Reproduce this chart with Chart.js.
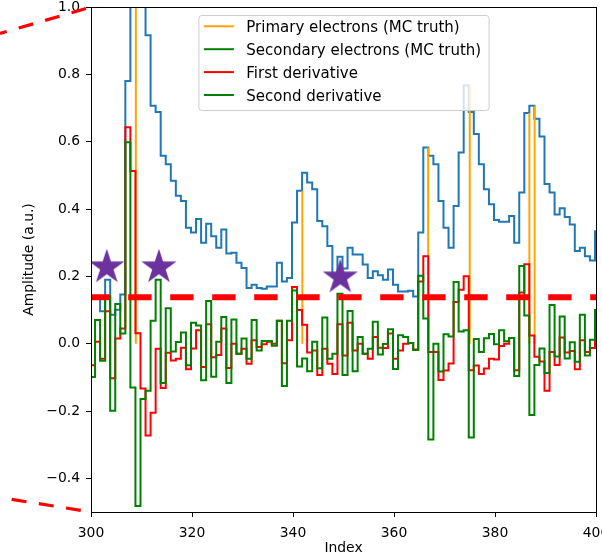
<!DOCTYPE html>
<html lang="en">
<head>
<meta charset="UTF-8">
<title>Pulse derivatives</title>
<script src="https://cdn.jsdelivr.net/npm/chart.js@4.4.1/dist/chart.umd.min.js"></script>
<style>
  html, body { margin: 0; padding: 0; background: #fff; }
  canvas { display: block; }
</style>
</head>
<body>
<canvas id="pulseChart" width="602" height="559"></canvas>
<script>
// first sample of the window; every array below holds one value per sample
const firstIndex = 300;

const waveform = [
  0.135, 0.141, 0.096, 0.190, 0.086, 0.101, 0.146, 0.780, 1.293, 1.324,
  1.191, 0.916, 0.707, 0.688, 0.558, 0.533, 0.484, 0.439, 0.424, 0.344,
  0.330, 0.370, 0.300, 0.356, 0.319, 0.285, 0.339, 0.268, 0.270, 0.240,
  0.225, 0.165, 0.175, 0.165, 0.163, 0.170, 0.170, 0.240, 0.185, 0.195,
  0.360, 0.454, 0.508, 0.479, 0.459, 0.364, 0.349, 0.290, 0.200, 0.258,
  0.223, 0.285, 0.265, 0.265, 0.235, 0.195, 0.215, 0.203, 0.190, 0.220,
  0.175, 0.155, 0.155, 0.157, 0.140, 0.330, 0.583, 0.558, 0.533, 0.424,
  0.344, 0.285, 0.409, 0.568, 0.767, 0.688, 0.623, 0.533, 0.459, 0.414,
  0.367, 0.362, 0.362, 0.379, 0.300, 0.449, 0.685, 0.707, 0.668, 0.615,
  0.474, 0.449, 0.384, 0.402, 0.376, 0.354, 0.275, 0.285, 0.260, 0.247,
  0.334
];

const firstDeriv = [
  -0.064, 0.006, -0.045, 0.096, -0.103, 0.015, 0.045, 0.643, 0.513, 0.031,
  -0.133, -0.273, -0.205, -0.015, -0.132, -0.027, -0.050, -0.045, -0.012, -0.076,
  -0.014, 0.040, -0.069, 0.058, -0.040, -0.034, 0.045, -0.072, 0.000, -0.030,
  -0.015, -0.060, 0.010, -0.010, -0.002, 0.006, 0.000, 0.068, -0.058, 0.010,
  0.168, 0.100, 0.056, -0.026, -0.020, -0.093, -0.015, -0.060, -0.090, 0.058,
  -0.035, 0.062, -0.020, 0.000, -0.030, -0.045, 0.020, -0.012, -0.013, 0.030,
  -0.045, -0.020, 0.000, 0.002, -0.017, 0.185, 0.260, -0.025, -0.025, -0.108,
  -0.080, -0.059, 0.124, 0.160, 0.200, -0.079, -0.065, -0.090, -0.074, -0.045,
  -0.047, -0.007, 0.000, 0.017, -0.079, 0.152, 0.236, 0.024, -0.039, -0.053,
  -0.140, -0.025, -0.063, 0.018, -0.026, -0.022, -0.076, 0.010, -0.025, -0.013,
  0.087
];

const secondDeriv = [
  -0.099, 0.070, -0.051, 0.141, -0.199, 0.118, 0.030, 0.598, -0.130, -0.482,
  -0.164, -0.140, 0.068, 0.190, -0.117, 0.105, -0.023, 0.005, 0.033, -0.064,
  0.062, 0.054, -0.109, 0.127, -0.098, 0.006, 0.079, -0.117, 0.072, -0.030,
  0.015, -0.045, 0.070, -0.020, 0.008, 0.008, -0.006, 0.068, -0.126, 0.068,
  0.158, -0.068, -0.044, -0.082, 0.006, -0.073, 0.078, -0.045, -0.030, 0.148,
  -0.093, 0.097, -0.082, 0.020, -0.030, -0.015, 0.065, -0.032, -0.001, 0.043,
  -0.075, 0.025, 0.020, 0.002, -0.019, 0.202, 0.075, -0.285, 0.000, -0.083,
  0.028, 0.021, 0.183, 0.036, 0.040, -0.279, 0.014, -0.025, 0.016, 0.029,
  -0.002, 0.040, 0.007, 0.017, -0.096, 0.231, 0.084, -0.212, -0.063, -0.014,
  -0.087, 0.115, -0.038, 0.081, -0.044, 0.004, -0.054, 0.086, -0.035, 0.012,
  0.100
];

// MC truth arrival positions and amplitudes
const primaryPos = [308.88, 341.85, 366.76, 375.0, 386.8, 387.85];
const primaryAmp = [1.3, 0.454, 0.583, 0.767, 0.685, 0.707];
const secondaryPos = [];
const secondaryAmp = [];

// found hits and the trigger threshold
const hitPos = [303.13, 313.45, 349.36];
const hitAmp = [0.227, 0.227, 0.197];
const threshold = 0.138;

const xTicks = [300, 320, 340, 360, 380, 400];
const yTicks = [-0.4, -0.2, 0.0, 0.2, 0.4, 0.6, 0.8, 1.0];

// bins start a little before the integer sample position
const binShift = 0.2;

function stepPoints(values) {
  const pts = [];
  values.forEach((v, k) => {
    const i = firstIndex + k;
    pts.push({ x: i - binShift, y: v }, { x: i + 1 - binShift, y: v });
  });
  return pts;
}

function stemPoints(pos, amp) {
  const pts = [];
  pos.forEach((p, k) => {
    pts.push({ x: p, y: 0 }, { x: p, y: amp[k] }, { x: p, y: null });
  });
  return pts;
}

function makeStar(r, color) {
  const c = document.createElement('canvas');
  const size = Math.ceil(r) * 2 + 2;
  c.width = c.height = size;
  const g = c.getContext('2d');
  const mid = size / 2;
  g.beginPath();
  for (let k = 0; k < 10; k++) {
    const rad = k % 2 === 0 ? r : r * 0.381966;
    const a = -Math.PI / 2 + k * Math.PI / 5;
    g.lineTo(mid + rad * Math.cos(a), mid + rad * Math.sin(a));
  }
  g.closePath();
  g.fillStyle = color;
  g.fill();
  return c;
}

const baseFont = { family: '"DejaVu Sans", sans-serif', size: 13.9 };
const lineW = 2;

// axes frame, legend box and the inset connector lines
const decorations = {
  id: 'decorations',
  afterDatasetsDraw(chart) {
    const { ctx, chartArea: a } = chart;
    ctx.save();
    ctx.strokeStyle = '#000';
    ctx.lineWidth = 1;
    ctx.strokeRect(a.left + 0.5, a.top + 0.5, a.right - a.left, a.bottom - a.top);

    const entries = chart.data.datasets
      .filter(d => d.legendRank !== undefined)
      .sort((p, q) => p.legendRank - q.legendRank);
    ctx.font = '15px "DejaVu Sans", sans-serif';
    const textW = Math.max(...entries.map(d => ctx.measureText(d.label).width));
    const padL = 5.5, padR = 7.4, handle = 30, gap = 12.4, rowH = 22.9;
    const boxW = padL + handle + gap + textW + padR;
    const boxH = 95;
    const left = (a.left + a.right) / 2 - boxW / 2;
    const top = a.top + 8;
    ctx.beginPath();
    ctx.roundRect(left + 0.5, top + 0.5, boxW, boxH, 3);
    ctx.fillStyle = 'rgba(255,255,255,0.8)';
    ctx.fill();
    ctx.strokeStyle = '#cccccc';
    ctx.lineWidth = 1;
    ctx.stroke();
    entries.forEach((d, k) => {
      const y = top + 11.3 + k * rowH;
      ctx.beginPath();
      ctx.moveTo(left + padL, y);
      ctx.lineTo(left + padL + handle, y);
      ctx.strokeStyle = d.borderColor;
      ctx.lineWidth = lineW;
      ctx.stroke();
      ctx.fillStyle = '#000';
      ctx.textBaseline = 'alphabetic';
      ctx.fillText(d.label, left + padL + handle + gap, y + 5.6);
    });
    ctx.restore();
  },
  afterDraw(chart) {
    const { ctx, chartArea: a } = chart;
    ctx.save();
    ctx.strokeStyle = 'red';
    ctx.lineWidth = 3.2;
    ctx.setLineDash([15, 12.5]);
    ctx.lineDashOffset = 8;
    ctx.beginPath();
    ctx.moveTo(0, a.top + 26.5);
    ctx.lineTo(a.left, a.top);
    ctx.stroke();
    ctx.lineDashOffset = 15.7;
    ctx.beginPath();
    ctx.moveTo(0, a.bottom - 14.5);
    ctx.lineTo(a.left, a.bottom);
    ctx.stroke();
    ctx.restore();
  }
};

const ctx = document.getElementById('pulseChart').getContext('2d');
new Chart(ctx, {
  type: 'line',
  data: {
    datasets: [
      {
        label: 'hits',
        data: hitPos.map((p, k) => ({ x: p, y: hitAmp[k] })),
        showLine: false,
        pointStyle: makeStar(18.5, '#6c329e'),
        pointRadius: 18,
        order: 0
      },
      {
        label: 'threshold',
        data: [{ x: 300, y: threshold }, { x: 400, y: threshold }],
        borderColor: 'red',
        borderWidth: 6,
        borderDash: [23.4, 18.6],
        borderDashOffset: 4.8,
        pointRadius: 0,
        order: 1
      },
      {
        label: 'Second derivative',
        legendRank: 3,
        data: stepPoints(secondDeriv),
        borderColor: 'green',
        borderWidth: lineW,
        pointRadius: 0,
        order: 2
      },
      {
        label: 'First derivative',
        legendRank: 2,
        data: stepPoints(firstDeriv),
        borderColor: 'red',
        borderWidth: lineW,
        pointRadius: 0,
        order: 3
      },
      {
        label: 'Secondary electrons (MC truth)',
        legendRank: 1,
        data: stemPoints(secondaryPos, secondaryAmp),
        borderColor: 'green',
        borderWidth: lineW,
        pointRadius: 0,
        order: 4
      },
      {
        label: 'Primary electrons (MC truth)',
        legendRank: 0,
        data: stemPoints(primaryPos, primaryAmp),
        borderColor: 'orange',
        borderWidth: lineW,
        pointRadius: 0,
        spanGaps: false,
        order: 5
      },
      {
        label: 'waveform',
        data: stepPoints(waveform),
        borderColor: '#1f77b4',
        borderWidth: lineW,
        pointRadius: 0,
        order: 6
      }
    ].map(d => Object.assign({ clip: 0, fill: false, tension: 0 }, d))
  },
  options: {
    responsive: false,
    animation: false,
    events: [],
    layout: { autoPadding: false, padding: { top: 7, right: 6, left: 0, bottom: 0 } },
    plugins: {
      legend: { display: false },
      tooltip: { enabled: false }
    },
    scales: {
      x: {
        type: 'linear',
        min: 300,
        max: 400,
        afterBuildTicks: s => { s.ticks = xTicks.map(v => ({ value: v })); },
        afterFit: s => { s.height = 47; s.paddingLeft = 0; s.paddingRight = 0; },
        grid: { display: true, drawOnChartArea: false, drawTicks: true, tickLength: 5, color: '#000', lineWidth: 1 },
        border: { display: false },
        ticks: { color: '#000', font: baseFont, padding: 8, maxRotation: 0, autoSkip: false },
        title: { display: true, text: 'Index', color: '#000', font: baseFont, padding: { top: 0, bottom: 2 } }
      },
      y: {
        type: 'linear',
        min: -0.5,
        max: 1.0,
        afterBuildTicks: s => { s.ticks = yTicks.map(v => ({ value: v })); },
        afterFit: s => { s.width = 91; s.paddingTop = 0; s.paddingBottom = 0; },
        grid: { display: true, drawOnChartArea: false, drawTicks: true, tickLength: 5, color: '#000', lineWidth: 1 },
        border: { display: false },
        ticks: {
          color: '#000',
          font: baseFont,
          padding: 6,
          autoSkip: false,
          callback: v => (v < 0 ? '\u2212' : '') + Math.abs(v).toFixed(1)
        },
        title: { display: true, text: 'Amplitude (a.u.)', color: '#000', font: baseFont, padding: { top: 21.5, bottom: 0 } }
      }
    }
  },
  plugins: [decorations]
});
</script>
</body>
</html>
